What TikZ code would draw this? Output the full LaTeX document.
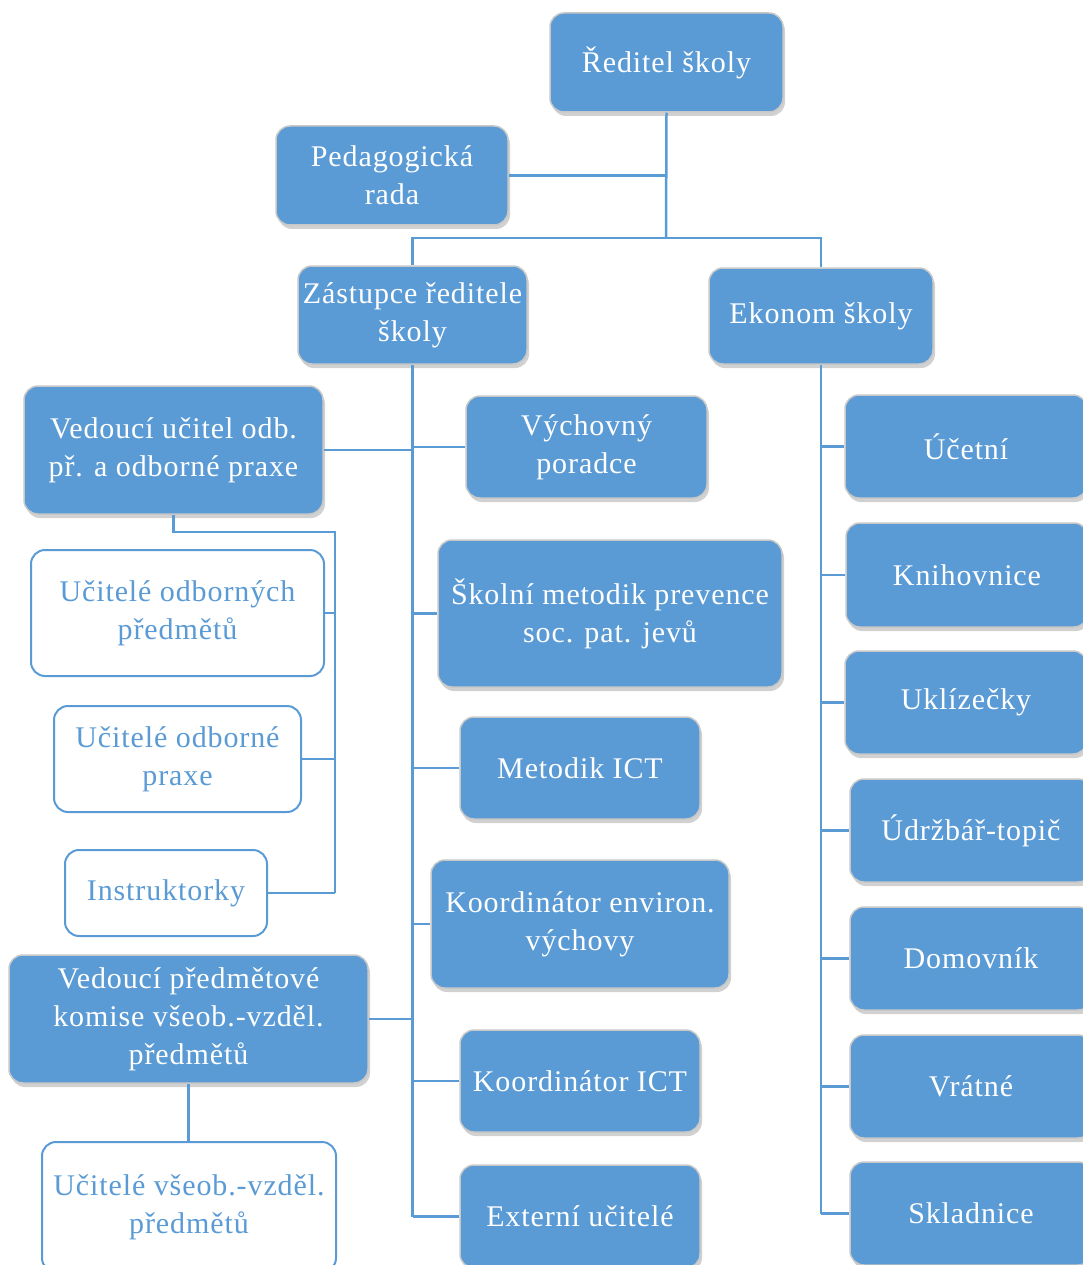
\documentclass[tikz,border=0pt]{standalone}
\usepackage{fontspec}
\setmainfont[LetterSpace=3]{Liberation Serif}
\usetikzlibrary{shadows}
\definecolor{boxblue}{HTML}{5B9BD5}
\definecolor{rimgray}{HTML}{C8C8C8}
\tikzset{
  fbox/.style={draw=rimgray, line width=1.5pt, fill=boxblue, rounded corners=14pt,
    text=white, align=center, font=\fontsize{30}{38}\selectfont, inner sep=2pt,
    drop shadow={shadow xshift=2pt, shadow yshift=-4pt, opacity=0.3, fill=black!60}},
  wbox/.style={draw=boxblue, line width=2pt, fill=white, rounded corners=14pt,
    text=boxblue, align=center, font=\fontsize{30}{38}\selectfont, inner sep=2pt},
  conn/.style={draw=boxblue, line width=2.5pt}
}
\begin{document}
\begin{tikzpicture}[x=1pt,y=-1pt]
\useasboundingbox (0,0) rectangle (1083,1265);
% top level
\node[fbox, minimum width=233pt, minimum height=99pt] (red) at (666.5,62.5) {Ředitel školy};
\node[fbox, minimum width=232pt, minimum height=99pt] (ped) at (392,175.5) {Pedagogická\\rada};
\node[fbox, minimum width=229pt, minimum height=98pt] (zas) at (412.5,315) {Zástupce ředitele\\školy};
\node[fbox, minimum width=224pt, minimum height=96pt] (eko) at (821,316) {Ekonom školy};
% middle column
\node[fbox, minimum width=299pt, minimum height=128pt] (vu) at (173.5,450) {Vedoucí učitel odb.\\př. a odborné praxe};
\node[fbox, minimum width=241pt, minimum height=102pt] (vyc) at (586.5,447) {Výchovný\\poradce};
\node[fbox, minimum width=344pt, minimum height=147pt] (skm) at (610,613.5) {Školní metodik prevence\\soc. pat. jevů};
\node[fbox, minimum width=240pt, minimum height=102pt] (mict) at (580,768) {Metodik ICT};
\node[fbox, minimum width=298pt, minimum height=128pt] (kenv) at (580,924) {Koordinátor environ.\\výchovy};
\node[fbox, minimum width=359pt, minimum height=128pt] (vp) at (188.5,1019) {Vedoucí předmětové\\komise všeob.-vzděl.\\předmětů};
\node[fbox, minimum width=240pt, minimum height=102pt] (kict) at (580,1081) {Koordinátor ICT};
\node[fbox, minimum width=240pt, minimum height=103pt] (ext) at (580,1216.5) {Externí učitelé};
% white boxes
\node[wbox, minimum width=293pt, minimum height=126pt] (uo) at (177.5,613) {Učitelé odborných\\předmětů};
\node[wbox, minimum width=247pt, minimum height=106pt] (up) at (177.5,759) {Učitelé odborné\\praxe};
\node[wbox, minimum width=202pt, minimum height=86pt] (ins) at (166,893) {Instruktorky};
\node[wbox, minimum width=294pt, minimum height=130pt] (uv) at (189,1207) {Učitelé všeob.-vzděl.\\předmětů};
% right column
\node[fbox, minimum width=242pt, minimum height=103pt] (uce) at (966,446.5) {Účetní};
\node[fbox, minimum width=242pt, minimum height=104pt] (kni) at (967,575) {Knihovnice};
\node[fbox, minimum width=242pt, minimum height=103pt] (ukl) at (966,702.5) {Uklízečky};
\node[fbox, minimum width=242pt, minimum height=103pt] (udr) at (971,830.5) {Údržbář-topič};
\node[fbox, minimum width=242pt, minimum height=103pt] (dom) at (971,958.5) {Domovník};
\node[fbox, minimum width=242pt, minimum height=103pt] (vra) at (971,1086.5) {Vrátné};
\node[fbox, minimum width=242pt, minimum height=103pt] (skl) at (971,1213.5) {Skladnice};
% connectors
\coordinate (j1) at (666,238);
\coordinate (vj) at (335,532);
\draw[conn] (red.south) -- (j1);
\draw[conn] (ped.east) -- (ped.east -| red.south);
\draw[conn] (zas.north) |- (j1) -| (eko.north);
% Zástupce trunk
\draw[conn] (zas.south) -- (zas.south |- ext.west);
\foreach \n in {vyc,skm,mict,kenv,kict,ext}{
  \draw[conn] (\n.west) -- (\n.west -| zas.south);
}
\draw[conn] (vu.east) -- (vu.east -| zas.south);
\draw[conn] (vp.east) -- (vp.east -| zas.south);
% Ekonom trunk
\draw[conn] (eko.south) -- (eko.south |- skl.west);
\foreach \n in {uce,kni,ukl,udr,dom,vra,skl}{
  \draw[conn] (\n.west) -- (\n.west -| eko.south);
}
% Vedoucí učitel subtree
\draw[conn] (vu.south) |- (vj) -- (vj |- ins.east);
\foreach \n in {uo,up,ins}{
  \draw[conn] (\n.east) -- (\n.east -| vj);
}
% Vedoucí předmětové
\draw[conn] (vp.south) -- (vp.south |- uv.north);
\end{tikzpicture}
\end{document}
